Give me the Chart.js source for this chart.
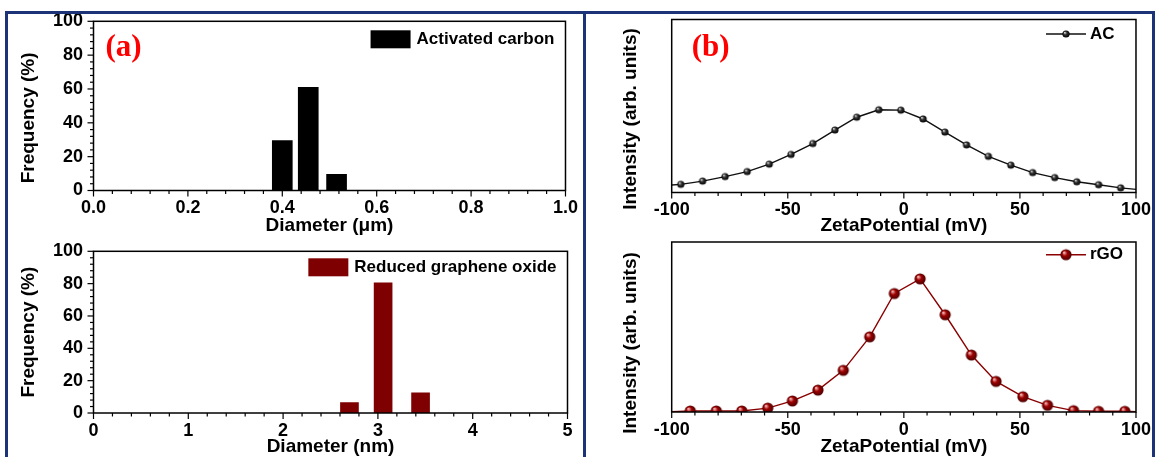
<!DOCTYPE html>
<html>
<head>
<meta charset="utf-8">
<script src="https://cdn.jsdelivr.net/npm/chart.js"></script>
<style>
  body { margin: 0; background: #fff; width: 1158px; height: 457px; overflow: hidden; position: relative; }
  canvas { position: absolute; }
  .frame { position: absolute; left: 5px; top: 11px; width: 1144px; height: 500px; border: 3px solid #1d3378; border-bottom: none; }
  .divider { position: absolute; left: 583px; top: 11px; width: 3px; height: 446px; background: #1d3378; }
</style>
</head>
<body>
<canvas id="tl" width="585" height="240" style="left:0;top:0"></canvas>
<canvas id="bl" width="585" height="229" style="left:0;top:230px"></canvas>
<canvas id="tr" width="573" height="240" style="left:585px;top:0"></canvas>
<canvas id="br" width="573" height="229" style="left:585px;top:230px"></canvas>
<div class="frame"></div>
<div class="divider"></div>
<script>
// particle size (DLS) histograms
const acDiameter = [0.40, 0.455, 0.515];
const acFrequency = [29.5, 61, 9.5];
const rgoDiameter = [2.70, 3.055, 3.45];
const rgoFrequency = [6.5, 80.5, 12.5];

// zeta potential curves (intensity as % of panel height)
const zetaAC = [-100, -96.1, -86.7, -77.0, -67.5, -58.0, -48.6, -39.2, -29.7, -20.3, -10.8, -1.3,
  8.3, 17.7, 27.0, 36.4, 46.1, 55.5, 65.0, 74.5, 83.9, 93.4, 100];
const intensityAC = [4.3, 4.7, 6.6, 9.2, 12.1, 16.4, 22.0, 28.3, 36.1, 43.5, 47.8, 47.6,
  42.5, 34.9, 27.5, 20.9, 15.8, 11.5, 8.6, 6.2, 4.5, 2.7, 1.8];
const zetaRGO = [-100, -92.0, -80.8, -69.8, -58.6, -48.0, -37.0, -26.1, -14.7, -4.1, 7.0,
  17.8, 29.1, 39.7, 51.3, 61.9, 73.1, 83.9, 95.2, 100];
const intensityRGO = [0.2, 0.6, 0.6, 0.6, 2.3, 6.5, 12.9, 24.5, 44.2, 69.7, 78.3,
  57.2, 33.5, 18.0, 9.0, 3.9, 0.8, 0.4, 0.4, 0.2];

Chart.defaults.font.family = '"Liberation Sans", Arial, sans-serif';
Chart.defaults.color = '#000';

const tickFont = { size: 18, weight: 'bold' };
const titleFont = { size: 19, weight: 'bold' };

function sphere(r, hi, base, dark) {
  const c = document.createElement('canvas');
  const s = Math.ceil(r * 2) + 2;
  c.width = c.height = s;
  const g = c.getContext('2d');
  const m = s / 2;
  const grad = g.createRadialGradient(m - r * 0.35, m - r * 0.4, r * 0.1, m, m, r);
  grad.addColorStop(0, hi);
  grad.addColorStop(0.4, base);
  grad.addColorStop(1, dark);
  g.fillStyle = grad;
  g.beginPath();
  g.arc(m, m, r, 0, Math.PI * 2);
  g.fill();
  return c;
}
const acBall = sphere(3.6, '#d0d0d0', '#333', '#000');
const rgoBall = sphere(5.6, '#f0b0b0', '#a00000', '#4a0000');

function isMajor(v, step) {
  return Math.abs(v / step - Math.round(v / step)) < 1e-6;
}

// box around the plot + outward major/minor ticks
const frameTicks = {
  id: 'frameTicks',
  afterDraw(chart, args, opts) {
    const { ctx, chartArea: a, scales } = chart;
    ctx.save();
    ctx.strokeStyle = '#000';
    ctx.lineWidth = 1.5;
    ctx.strokeRect(a.left, a.top, a.right - a.left, a.bottom - a.top);
    ctx.lineWidth = 1.2;
    ['x', 'y'].forEach(id => {
      if (!opts[id]) return;
      const s = scales[id];
      s.ticks.forEach(t => {
        const len = isMajor(t.value, opts[id]) ? 6 : 3.5;
        const p = s.getPixelForValue(t.value);
        ctx.beginPath();
        if (id === 'x') { ctx.moveTo(p, a.bottom); ctx.lineTo(p, a.bottom + len); }
        else { ctx.moveTo(a.left, p); ctx.lineTo(a.left - len, p); }
        ctx.stroke();
      });
    });
    ctx.restore();
  }
};

// panel tag, rotated y title and legend
const decor = {
  id: 'decor',
  afterDraw(chart, args, o) {
    const { ctx, chartArea: a } = chart;
    const ds = chart.data.datasets[0];
    ctx.save();
    ctx.textBaseline = 'middle';
    if (o.tag) {
      ctx.font = 'bold 31px "Liberation Serif", "Times New Roman", serif';
      ctx.fillStyle = '#ff0000';
      ctx.fillText(o.tag, a.left + o.tagDx, a.top + o.tagDy);
    }
    ctx.save();
    ctx.font = 'bold 19px "Liberation Sans", Arial, sans-serif';
    ctx.fillStyle = '#000';
    ctx.textAlign = 'center';
    ctx.translate(o.yTitleX, (a.top + a.bottom) / 2 + o.yTitleDy);
    ctx.rotate(-Math.PI / 2);
    ctx.fillText(o.yTitle, 0, 0);
    ctx.restore();

    ctx.font = 'bold 17px "Liberation Sans", Arial, sans-serif';
    const ly = a.top + o.legendDy;
    if (o.kind === 'bar') {
      const w = ctx.measureText(ds.label).width;
      const tx = a.right - 11 - w;
      ctx.fillStyle = ds.backgroundColor;
      ctx.fillRect(tx - 46, ly - 9, 40, 18);
      ctx.fillStyle = '#000';
      ctx.fillText(ds.label, tx, ly);
    } else {
      const x0 = a.right - 90;
      ctx.strokeStyle = ds.borderColor;
      ctx.lineWidth = 1.5;
      ctx.beginPath();
      ctx.moveTo(x0, ly);
      ctx.lineTo(x0 + 40, ly);
      ctx.stroke();
      ctx.drawImage(o.ball, x0 + 20 - o.ball.width / 2, ly - o.ball.height / 2);
      ctx.fillStyle = '#000';
      ctx.fillText(ds.label, x0 + 44, ly);
    }
    ctx.restore();
  }
};

function barChart(id, label, xs, ys, color, thick, xMax, xStep, xMajor, xDigits, xTitle, pad, xHeight, titlePad, yDy) {
  return new Chart(document.getElementById(id), {
    type: 'bar',
    data: {
      datasets: [{
        label: label,
        data: xs.map((x, i) => ({ x: x, y: ys[i] })),
        backgroundColor: color,
        barThickness: thick
      }]
    },
    options: {
      responsive: false,
      animation: false,
      layout: { padding: pad },
      plugins: {
        legend: { display: false },
        tooltip: { enabled: false },
        frameTicks: { x: xMajor, y: 20 },
        decor: {
          kind: 'bar', tag: id === 'tl' ? '(a)' : null, tagDx: 12, tagDy: 27,
          legendDy: id === 'tl' ? 18 : 16,
          yTitle: 'Frequency (%)', yTitleX: 29, yTitleDy: yDy
        }
      },
      scales: {
        x: {
          type: 'linear', offset: false, min: 0, max: xMax,
          grid: { display: false, drawTicks: false },
          border: { display: false },
          ticks: {
            stepSize: xStep, autoSkip: false, maxRotation: 0, padding: 7, font: tickFont,
            callback: v => isMajor(v, xMajor) ? v.toFixed(xDigits) : ''
          },
          title: { display: true, text: xTitle, font: titleFont, padding: { top: 0, bottom: titlePad } },
          afterFit: s => { s.height = xHeight; }
        },
        y: {
          min: 0, max: 100,
          grid: { display: false, drawTicks: false },
          border: { display: false },
          ticks: {
            stepSize: 4, autoSkip: false, padding: 10.5, font: tickFont,
            callback: v => isMajor(v, 20) ? v : ''
          },
          afterFit: s => { s.width = 93.5; }
        }
      }
    },
    plugins: [frameTicks, decor]
  });
}

function zetaChart(id, label, xs, ys, color, ball, pad, xHeight, titlePad, yDy) {
  const n = xs.length;
  return new Chart(document.getElementById(id), {
    type: 'line',
    data: {
      datasets: [{
        label: label,
        data: xs.map((x, i) => ({ x: x, y: ys[i] })),
        borderColor: color,
        borderWidth: 1.4,
        tension: 0,
        pointStyle: c => (c.dataIndex === 0 || c.dataIndex === n - 1) ? 'circle' : ball,
        pointRadius: c => (c.dataIndex === 0 || c.dataIndex === n - 1) ? 0 : 5
      }]
    },
    options: {
      responsive: false,
      animation: false,
      layout: { padding: pad },
      plugins: {
        legend: { display: false },
        tooltip: { enabled: false },
        frameTicks: { x: 50 },
        decor: {
          kind: 'line', ball: ball, tag: id === 'tr' ? '(b)' : null, tagDx: 20, tagDy: 28.5,
          legendDy: id === 'tr' ? 14.5 : 12.7,
          yTitle: 'Intensity (arb. units)', yTitleX: 46, yTitleDy: yDy
        }
      },
      scales: {
        x: {
          type: 'linear', min: -100, max: 100,
          grid: { display: false, drawTicks: false },
          border: { display: false },
          ticks: {
            stepSize: 10, autoSkip: false, maxRotation: 0, padding: 7, font: tickFont,
            callback: v => isMajor(v, 50) ? v : ''
          },
          title: { display: true, text: 'ZetaPotential (mV)', font: titleFont, padding: { top: 0, bottom: titlePad } },
          afterFit: s => { s.height = xHeight; }
        },
        y: {
          min: 0, max: 100,
          grid: { display: false, drawTicks: false },
          border: { display: false },
          ticks: { display: false },
          afterFit: s => { s.width = 86.7; }
        }
      }
    },
    plugins: [frameTicks, decor]
  });
}

barChart('tl', 'Activated carbon', acDiameter, acFrequency, '#000000', 20, 1, 0.04, 0.2, 1,
  'Diameter (\u03bcm)', { top: 20.5, right: 17.5, left: 0, bottom: 0 }, 49.5, 2.6, 12);
barChart('bl', 'Reduced graphene oxide', rgoDiameter, rgoFrequency, '#7f0000', 18, 5, 0.2, 1, 0,
  'Diameter (nm)', { top: 13, right: 17.5, left: 0, bottom: 0 }, 46, 0.6, 0);
zetaChart('tr', 'AC', zetaAC, intensityAC, '#111111', acBall,
  { top: 19.5, right: 19.3, left: 0, bottom: 0 }, 47.5, 2.6, 13);
zetaChart('br', 'rGO', zetaRGO, intensityRGO, '#8b0000', rgoBall,
  { top: 12, right: 19.3, left: 0, bottom: 0 }, 47, 0.6, 16);
</script>
</body>
</html>
